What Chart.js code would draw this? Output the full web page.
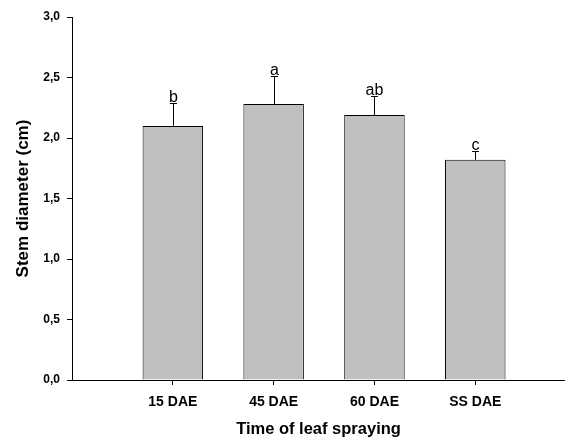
<!DOCTYPE html>
<html>
<head>
<meta charset="utf-8">
<script src="https://cdn.jsdelivr.net/npm/chart.js@4"></script>
<style>
  html, body { margin: 0; padding: 0; background: #fff; }
  #wrap { width: 565px; height: 443px; }
</style>
</head>
<body>
<div id="wrap"><canvas id="c" width="565" height="443"></canvas></div>
<script>
const categories = ['15 DAE', '45 DAE', '60 DAE', 'SS DAE'];
const means = [2.10, 2.28, 2.19, 1.82];
const errors = [0.19, 0.23, 0.16, 0.07];
const letters = ['b', 'a', 'ab', 'c'];
const yTicks = [0, 0.5, 1.0, 1.5, 2.0, 2.5, 3.0];

const FONT = '"Liberation Sans", Arial, sans-serif';

const errorBarPlugin = {
  id: 'errorBars',
  afterDatasetsDraw(chart) {
    const ctx = chart.ctx;
    const xs = chart.scales.x, ys = chart.scales.y;
    ctx.save();
    ctx.strokeStyle = '#000';
    ctx.lineWidth = 1;
    ctx.fillStyle = '#000';
    ctx.font = '16px ' + FONT;
    ctx.textAlign = 'center';
    ctx.textBaseline = 'alphabetic';
    means.forEach((m, i) => {
      const x = Math.round(xs.getPixelForValue(i + 1)) + 0.5;
      const y0 = ys.getPixelForValue(m);
      const y1 = Math.round(ys.getPixelForValue(m + errors[i])) + 0.5;
      ctx.beginPath();
      ctx.moveTo(x, y0);
      ctx.lineTo(x, y1);
      ctx.moveTo(x - 3.5, y1);
      ctx.lineTo(x + 3.5, y1);
      ctx.stroke();
      ctx.fillText(letters[i], x, y1 - 2);
    });
    ctx.restore();
  }
};

new Chart(document.getElementById('c'), {
  type: 'bar',
  data: {
    datasets: [{
      data: means.map((v, i) => ({ x: i + 1, y: v })),
      backgroundColor: '#c0c0c0',
      borderColor: '#000',
      borderWidth: 1,
      barPercentage: 0.6,
      categoryPercentage: 1.0
    }]
  },
  options: {
    responsive: false,
    animation: false,
    devicePixelRatio: 1,
    layout: { padding: { top: 17, right: 0, bottom: 0, left: 0 } },
    plugins: { legend: { display: false }, tooltip: { enabled: false } },
    scales: {
      x: {
        type: 'linear',
        offset: false,
        min: 0,
        max: 4.89,
        afterBuildTicks(scale) {
          scale.ticks = categories.map((c, i) => ({ value: i + 1 }));
        },
        afterFit(scale) { scale.height = 63; },
        ticks: {
          autoSkip: false,
          maxRotation: 0,
          padding: 9,
          color: '#000',
          font: { family: FONT, size: 14, weight: 'bold' },
          callback: (v) => categories[v - 1]
        },
        grid: { display: true, offset: false, drawOnChartArea: false, drawTicks: true, tickLength: 5, color: '#000' },
        border: { display: true, color: '#000', width: 1 },
        title: {
          display: true,
          text: 'Time of leaf spraying',
          color: '#000',
          font: { family: FONT, size: 16.5, weight: 'bold' },
          padding: { top: 0, bottom: 4 }
        }
      },
      y: {
        min: 0,
        max: 3,
        afterBuildTicks(scale) {
          scale.ticks = yTicks.map(v => ({ value: v }));
        },
        afterFit(scale) { scale.width = 72; },
        ticks: {
          padding: 7,
          color: '#000',
          font: { family: FONT, size: 12, weight: 'bold' },
          callback: (v) => Number(v).toFixed(1).replace('.', ',')
        },
        grid: { display: true, drawOnChartArea: false, drawTicks: true, tickLength: 5, color: '#000' },
        border: { display: true, color: '#000', width: 1 },
        title: {
          display: true,
          text: 'Stem diameter (cm)',
          color: '#000',
          font: { family: FONT, size: 17, weight: 'bold' },
          padding: { top: 13, bottom: 0 }
        }
      }
    }
  },
  plugins: [errorBarPlugin]
});
</script>
</body>
</html>
